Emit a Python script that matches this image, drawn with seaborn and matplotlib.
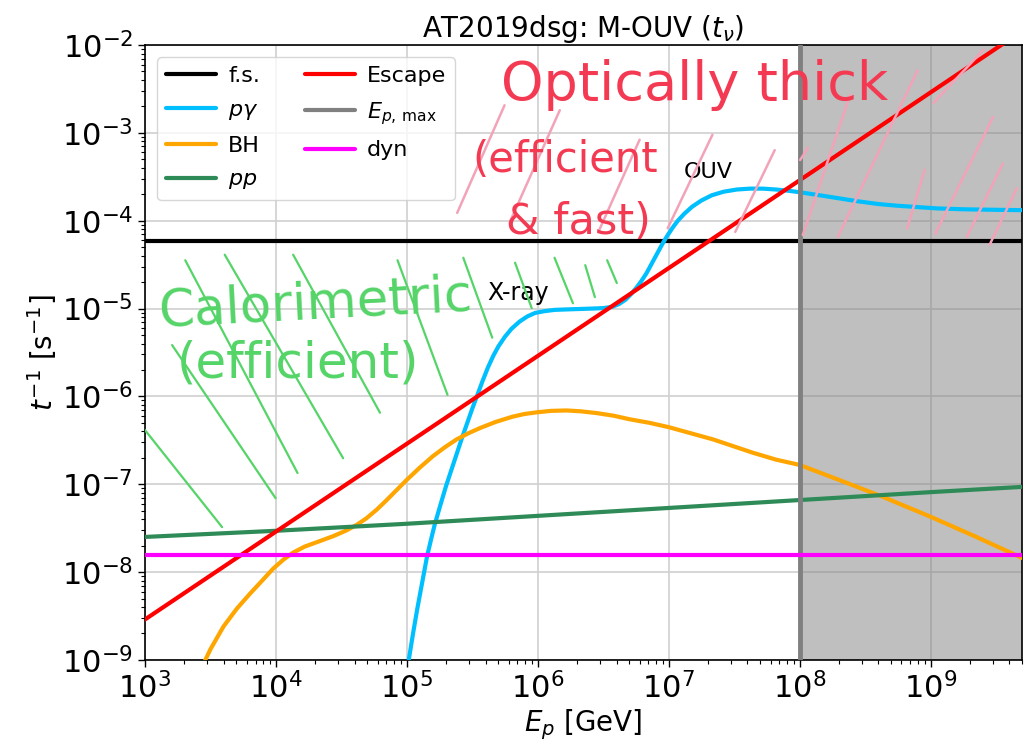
import numpy as np
import matplotlib
matplotlib.use("Agg")
import matplotlib.pyplot as plt
import seaborn as sns

# ---- interaction rates for AT2019dsg, M-OUV model (log10 E_p [GeV], log10 t^-1 [s^-1]) ----
pgamma_logE = [5.005, 5.015, 5.05, 5.08, 5.12, 5.155, 5.19, 5.215, 5.26, 5.30, 5.34,
               5.38, 5.42, 5.46, 5.50, 5.54, 5.58, 5.62, 5.66, 5.70, 5.75, 5.80,
               5.86, 5.92, 5.98, 6.05, 6.13, 6.22, 6.32, 6.42, 6.50, 6.57, 6.62,
               6.67, 6.71, 6.75, 6.79, 6.83, 6.87, 6.91, 6.95, 6.99, 7.03, 7.07,
               7.12, 7.18, 7.25, 7.33, 7.42, 7.52, 7.62, 7.72, 7.82, 7.92, 8.02,
               8.15, 8.30, 8.45, 8.60, 8.75, 8.90, 9.05, 9.25, 9.45, 9.70]
pgamma_logt = [-9.09, -9.00, -8.68, -8.42, -8.10, -7.82, -7.60, -7.45, -7.22, -7.02, -6.84,
               -6.66, -6.48, -6.31, -6.14, -5.98, -5.82, -5.67, -5.54, -5.43, -5.32, -5.23,
               -5.15, -5.09, -5.05, -5.03, -5.015, -5.01, -5.005, -5.00, -4.995, -4.98, -4.95,
               -4.90, -4.84, -4.77, -4.69, -4.60, -4.49, -4.38, -4.27, -4.17, -4.08, -4.00,
               -3.92, -3.84, -3.77, -3.71, -3.67, -3.645, -3.635, -3.635, -3.645, -3.66, -3.68,
               -3.71, -3.745, -3.78, -3.81, -3.83, -3.845, -3.86, -3.87, -3.875, -3.88]

bh_logE = [3.43, 3.50, 3.60, 3.70, 3.80, 3.90, 3.98, 4.06, 4.13, 4.22, 4.34, 4.44,
           4.54, 4.62, 4.69, 4.77, 4.84, 4.92, 5.00, 5.10, 5.20, 5.29, 5.38, 5.47,
           5.56, 5.68, 5.81, 5.90, 6.00, 6.10, 6.22, 6.33, 6.45, 6.58, 6.70, 6.85,
           7.00, 7.17, 7.34, 7.50, 7.64, 7.82, 8.00, 8.30, 8.63, 9.00, 9.35, 9.70]
bh_logt = [-9.10, -8.88, -8.62, -8.42, -8.25, -8.09, -7.96, -7.856, -7.78, -7.71, -7.645, -7.59,
           -7.525, -7.46, -7.39, -7.29, -7.19, -7.07, -6.95, -6.81, -6.68, -6.58, -6.49, -6.42,
           -6.36, -6.29, -6.23, -6.20, -6.18, -6.165, -6.16, -6.17, -6.19, -6.22, -6.26, -6.30,
           -6.35, -6.42, -6.49, -6.57, -6.64, -6.72, -6.78, -6.95, -7.14, -7.37, -7.60, -7.84]

pp_logE = [3.0, 4.0, 5.0, 6.0, 7.0, 8.0, 9.0, 9.7]
pp_logt = [-7.60, -7.53, -7.45, -7.36, -7.27, -7.18, -7.09, -7.03]

esc_logE = [3.0, 4.0, 5.0, 6.0, 7.0, 8.0, 9.0, 9.7]
esc_logt = [-8.54, -7.54, -6.54, -5.54, -4.54, -3.54, -2.54, -1.84]

fs_rate = 5.9e-5        # free-streaming rate [s^-1]
dyn_rate = 1.57e-8      # dynamical rate [s^-1]
Ep_max = 1e8            # maximum proton energy [GeV]
E_range = (1e3, 5e9)
t_range = (1e-9, 1e-2)
E_ticks = [1e3, 1e4, 1e5, 1e6, 1e7, 1e8, 1e9]
t_ticks = [1e-9, 1e-8, 1e-7, 1e-6, 1e-5, 1e-4, 1e-3, 1e-2]

sns.set_style("ticks")
plt.rcParams.update({
    "font.family": ["DejaVu Sans"],
    "mathtext.fontset": "dejavusans",
    "text.color": "black", "axes.labelcolor": "black",
    "xtick.direction": "out", "ytick.direction": "out",
    "xtick.major.size": 5, "ytick.major.size": 5,
    "xtick.minor.size": 3, "ytick.minor.size": 3,
    "xtick.major.width": 1.0, "ytick.major.width": 1.0,
    "xtick.minor.width": 0.8, "ytick.minor.width": 0.8,
    "axes.edgecolor": "black", "axes.linewidth": 1.2,
    "xtick.color": "black", "ytick.color": "black",
    "lines.solid_joinstyle": "round",
})

fig = plt.figure(figsize=(10.35, 7.44), dpi=100)
ax = fig.add_axes([0.140, 0.113, 0.8475, 0.8265])
ax.set_xscale("log")
ax.set_yscale("log")

lw = 3.0
E = lambda v: 10 ** np.asarray(v, dtype=float)

ax.axhline(fs_rate, color="black", lw=lw, label="f.s.", zorder=3)
sns.lineplot(x=E(pgamma_logE), y=E(pgamma_logt), ax=ax, color="deepskyblue", lw=lw,
             label=r"$p\gamma$", sort=False, zorder=3)
sns.lineplot(x=E(bh_logE), y=E(bh_logt), ax=ax, color="orange", lw=lw,
             label="BH", sort=False, zorder=3)
sns.lineplot(x=E(pp_logE), y=E(pp_logt), ax=ax, color="seagreen", lw=lw,
             label=r"$pp$", sort=False, zorder=3)
sns.lineplot(x=E(esc_logE), y=E(esc_logt), ax=ax, color="red", lw=lw,
             label="Escape", sort=False, zorder=3)
ax.axvline(Ep_max, color="gray", lw=3.5, label=r"$E_{p,\,\max}$", zorder=3)
ax.axhline(dyn_rate, color="magenta", lw=lw, label="dyn", zorder=3)

# region above the maximum proton energy
ax.axvspan(Ep_max, E_range[1], color="gray", alpha=0.5, lw=0, zorder=1)

ax.set_xticks(E_ticks)
ax.set_yticks(t_ticks)
ax.set_xlim(*E_range)
ax.set_ylim(*t_range)
ax.grid(True, which="major", color="#d0d0d0", lw=1.2, zorder=0)
ax.set_axisbelow(True)

ax.tick_params(axis="both", which="major", labelsize=22)
ax.set_xlabel(r"$E_p$ [GeV]", fontsize=20, labelpad=2)
ax.set_ylabel(r"$t^{-1}$ [s$^{-1}$]", fontsize=20, labelpad=2)
ax.set_title(r"AT2019dsg: M-OUV ($t_\nu$)", fontsize=20, color="black")

ax.text(4.1e5, 1.5e-5, "X-ray", fontsize=17, ha="left", va="center", zorder=4)
ax.text(1.3e7, 3.6e-4, "OUV", fontsize=16, ha="left", va="center", zorder=4)

leg = ax.legend(loc="upper left", ncol=2, fontsize=16, frameon=True,
                labelspacing=0.62, borderaxespad=0.55, handlelength=2.25,
                handletextpad=0.55)
for h in leg.get_lines():
    h.set_linewidth(3.0)

# ---- hand-drawn highlighting of the two regimes ----
pink = "#f3a3b8"
green = "#55d468"
red_ink = "#f43a52"
pink_strokes = [
    (0.356, 0.727, 0.410, 0.902), (0.416, 0.712, 0.473, 0.894),
    (0.517, 0.696, 0.564, 0.846), (0.596, 0.702, 0.647, 0.854),
    (0.673, 0.696, 0.718, 0.829), (0.750, 0.691, 0.804, 0.919),
    (0.790, 0.688, 0.881, 0.959), (0.869, 0.702, 0.889, 0.797),
    (0.899, 0.906, 0.956, 0.992), (0.901, 0.693, 0.967, 0.883),
    (0.937, 0.688, 0.978, 0.807), (0.963, 0.675, 0.994, 0.767),
    (0.747, 0.813, 0.756, 0.833),
]
green_strokes = [
    (0.000, 0.374, 0.088, 0.216), (0.031, 0.512, 0.149, 0.263),
    (0.046, 0.650, 0.174, 0.304), (0.091, 0.659, 0.226, 0.328),
    (0.169, 0.659, 0.268, 0.402), (0.288, 0.650, 0.345, 0.431),
    (0.363, 0.654, 0.396, 0.524), (0.422, 0.646, 0.441, 0.572),
    (0.467, 0.654, 0.488, 0.580), (0.502, 0.642, 0.513, 0.590),
    (0.527, 0.650, 0.538, 0.613),
]
for x0, y0, x1, y1 in pink_strokes:
    ax.plot([x0, x1], [y0, y1], transform=ax.transAxes, color=pink, lw=1.8,
            solid_capstyle="round", zorder=5)
for x0, y0, x1, y1 in green_strokes:
    ax.plot([x0, x1], [y0, y1], transform=ax.transAxes, color=green, lw=1.6,
            solid_capstyle="round", zorder=5)

ax.text(0.627, 0.935, "Optically thick", transform=ax.transAxes, color=red_ink,
        fontsize=39, ha="center", va="center", zorder=6)
ax.text(0.479, 0.813, "(efficient", transform=ax.transAxes, color=red_ink,
        fontsize=30, ha="center", va="center", zorder=6)
ax.text(0.494, 0.712, "& fast)", transform=ax.transAxes, color=red_ink,
        fontsize=31, ha="center", va="center", zorder=6)
ax.text(0.194, 0.578, "Calorimetric", transform=ax.transAxes, color=green,
        fontsize=37, ha="center", va="center", rotation=3, zorder=6)
ax.text(0.174, 0.482, "(efficient)", transform=ax.transAxes, color=green,
        fontsize=36, ha="center", va="center", zorder=6)

fig.savefig("out.png", dpi=100)
